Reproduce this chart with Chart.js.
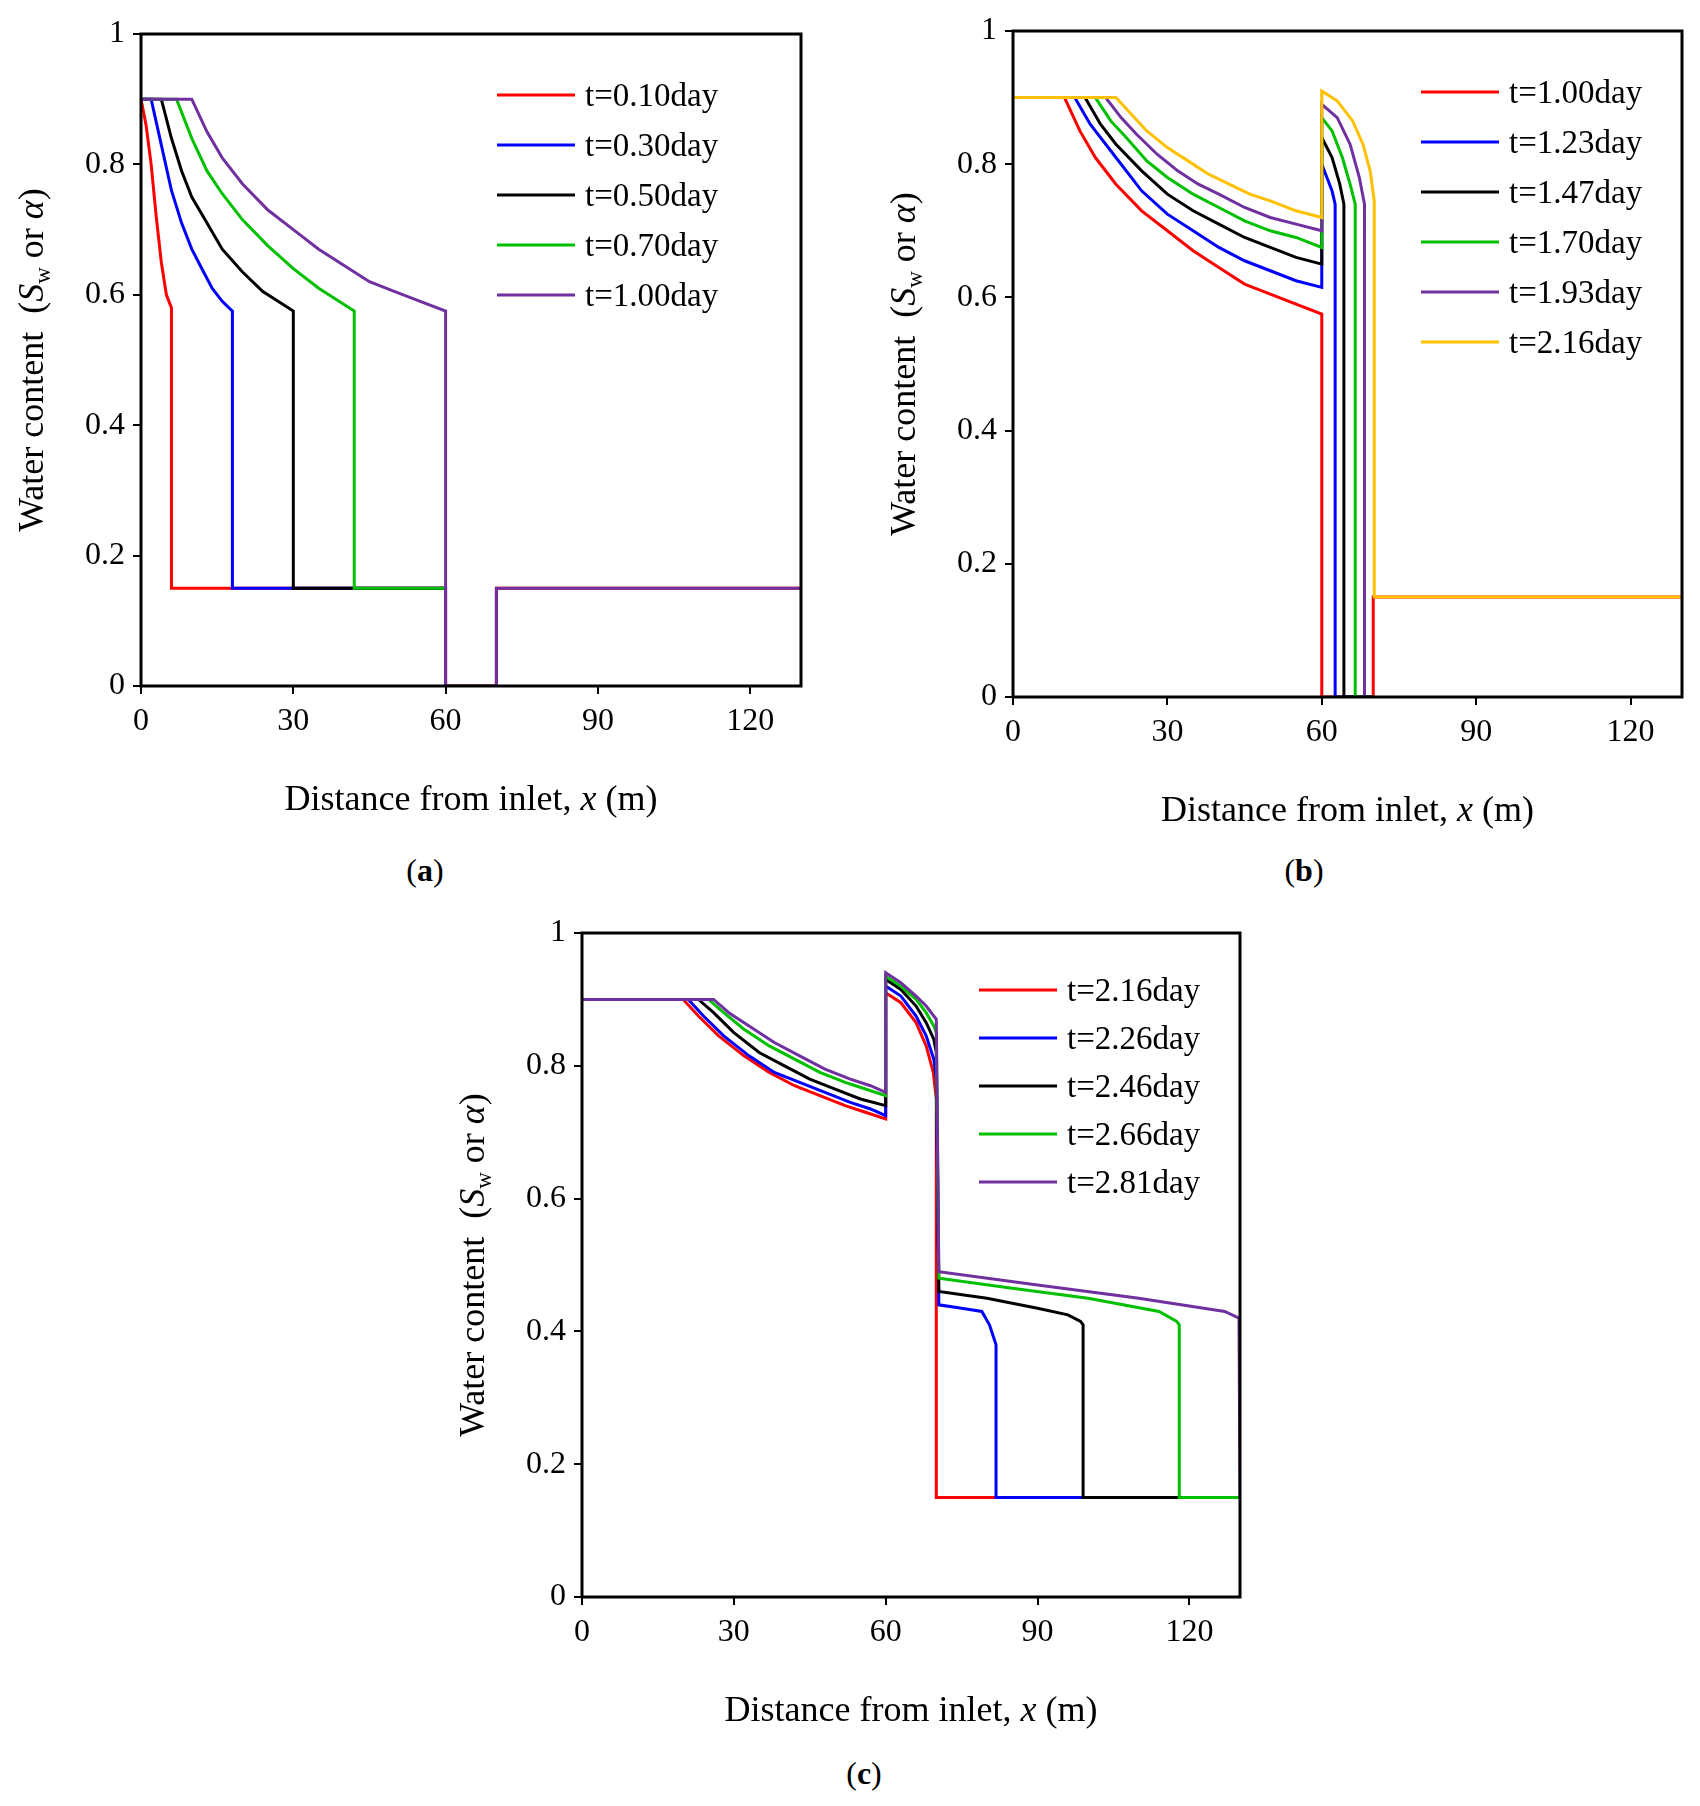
<!DOCTYPE html>
<html>
<head>
<meta charset="utf-8">
<script src="https://cdn.jsdelivr.net/npm/chart.js@4"></script>
<style>
  body { margin: 0; background: #fff; width: 1700px; height: 1806px; position: relative; font-family: "Liberation Serif", serif; }
  canvas { position: absolute; }
  .cap { position: absolute; font-size: 32px; transform: translateX(-50%); }
</style>
</head>
<body>
<canvas id="ca" width="850" height="850" style="left:0;top:0"></canvas>
<canvas id="cb" width="830" height="850" style="left:870px;top:0"></canvas>
<canvas id="cc" width="850" height="850" style="left:440px;top:900px"></canvas>
<div class="cap" style="left:425px;top:852px">(<b>a</b>)</div>
<div class="cap" style="left:1304px;top:852px">(<b>b</b>)</div>
<div class="cap" style="left:864px;top:1755px">(<b>c</b>)</div>
<script>
const xTicks = [0, 30, 60, 90, 120];
const yTicks = [0, 0.2, 0.4, 0.6, 0.8, 1];

// panel (a)
const aLabels = ["t=0.10day", "t=0.30day", "t=0.50day", "t=0.70day", "t=1.00day"];
const aX1 = [0, 1, 2, 3, 4, 5, 6, 6, 60, 60, 70, 70, 130];
const aY1 = [0.9, 0.86, 0.8, 0.72, 0.65, 0.6, 0.58, 0.15, 0.15, 0, 0, 0.15, 0.15];
const aX2 = [0, 2, 4, 6, 8, 10, 12, 14, 16, 18, 18, 60];
const aY2 = [0.9, 0.9, 0.83, 0.76, 0.71, 0.67, 0.64, 0.61, 0.59, 0.575, 0.15, 0.15];
const aX3 = [0, 4, 6, 8, 10, 13, 16, 20, 24, 27, 30, 30, 60];
const aY3 = [0.9, 0.9, 0.84, 0.79, 0.75, 0.71, 0.67, 0.635, 0.605, 0.59, 0.575, 0.15, 0.15];
const aX4 = [0, 7, 10, 13, 16, 20, 25, 30, 35, 40, 42, 42, 60];
const aY4 = [0.9, 0.9, 0.84, 0.79, 0.755, 0.715, 0.675, 0.64, 0.61, 0.585, 0.575, 0.15, 0.15];
const aX5 = [0, 10, 13, 16, 20, 25, 30, 35, 40, 45, 50, 55, 60, 60, 70, 70, 130];
const aY5 = [0.9, 0.9, 0.85, 0.81, 0.77, 0.73, 0.7, 0.67, 0.645, 0.62, 0.605, 0.59, 0.575, 0, 0, 0.15, 0.15];

// panel (b)
const bLabels = ["t=1.00day", "t=1.23day", "t=1.47day", "t=1.70day", "t=1.93day", "t=2.16day"];
const bX1 = [0, 10, 13, 16, 20, 25, 30, 35, 40, 45, 50, 55, 60, 60, 61, 70, 70, 130];
const bY1 = [0.9, 0.9, 0.85, 0.81, 0.77, 0.73, 0.7, 0.67, 0.645, 0.62, 0.605, 0.59, 0.575, 0, 0, 0, 0.15, 0.15];
const bX2 = [0, 12, 15, 20, 25, 30, 35, 40, 45, 50, 55, 60, 60, 61, 62, 62.6, 62.6, 70];
const bY2 = [0.9, 0.9, 0.86, 0.81, 0.76, 0.725, 0.7, 0.675, 0.655, 0.64, 0.625, 0.615, 0.8, 0.78, 0.76, 0.74, 0, 0];
const bX3 = [0, 14, 17, 20, 25, 30, 35, 40, 45, 50, 55, 60, 60, 62, 63.5, 64.3, 64.3, 70];
const bY3 = [0.9, 0.9, 0.86, 0.83, 0.79, 0.755, 0.73, 0.71, 0.69, 0.675, 0.66, 0.65, 0.84, 0.81, 0.77, 0.74, 0, 0];
const bX4 = [0, 16, 19, 22, 26, 30, 35, 40, 45, 50, 55, 60, 60, 62, 64, 65.5, 66.5, 66.5, 70];
const bY4 = [0.9, 0.9, 0.865, 0.84, 0.805, 0.78, 0.755, 0.735, 0.715, 0.7, 0.69, 0.675, 0.87, 0.85, 0.81, 0.77, 0.74, 0, 0];
const bX5 = [0, 18, 21, 24, 28, 32, 36, 40, 45, 50, 55, 60, 60, 63, 65.5, 67.3, 68.3, 68.3, 70];
const bY5 = [0.9, 0.9, 0.87, 0.845, 0.815, 0.79, 0.77, 0.755, 0.735, 0.72, 0.71, 0.7, 0.89, 0.87, 0.83, 0.78, 0.74, 0, 0];
const bX6 = [0, 20, 23, 26, 30, 34, 38, 42, 46, 50, 55, 60, 60, 63, 66, 68, 69.4, 70.2, 70.2, 130];
const bY6 = [0.9, 0.9, 0.875, 0.85, 0.825, 0.805, 0.785, 0.77, 0.755, 0.745, 0.73, 0.72, 0.91, 0.895, 0.865, 0.83, 0.79, 0.745, 0.15, 0.15];

// panel (c)
const cLabels = ["t=2.16day", "t=2.26day", "t=2.46day", "t=2.66day", "t=2.81day"];
const cX1 = [0, 20, 23, 27, 32, 37, 42, 47, 52, 56, 60, 60, 63, 66, 68, 69.4, 70, 70, 130];
const cY1 = [0.9, 0.9, 0.875, 0.845, 0.815, 0.79, 0.77, 0.755, 0.74, 0.73, 0.72, 0.91, 0.895, 0.865, 0.83, 0.79, 0.75, 0.15, 0.15];
const cX2 = [0, 21, 24, 28, 33, 38, 43, 48, 53, 57, 60, 60, 63, 66, 68, 69.5, 70, 70.5, 75, 79, 80.5, 81.8, 81.8, 130];
const cY2 = [0.9, 0.9, 0.875, 0.845, 0.815, 0.79, 0.775, 0.76, 0.745, 0.735, 0.725, 0.92, 0.905, 0.875, 0.845, 0.81, 0.78, 0.44, 0.435, 0.43, 0.41, 0.38, 0.15, 0.15];
const cX3 = [0, 23, 26, 30, 35, 40, 45, 50, 55, 60, 60, 63, 66, 68, 69.5, 70, 70.5, 80, 90, 96, 98.5, 99, 99, 130];
const cY3 = [0.9, 0.9, 0.88, 0.85, 0.82, 0.8, 0.78, 0.765, 0.75, 0.74, 0.93, 0.915, 0.89, 0.865, 0.84, 0.82, 0.46, 0.45, 0.435, 0.425, 0.415, 0.41, 0.15, 0.15];
const cX4 = [0, 25, 28, 32, 37, 42, 47, 52, 56, 60, 60, 63, 66, 68, 69.5, 70, 70.5, 85, 100, 114, 117.5, 118, 118, 130];
const cY4 = [0.9, 0.9, 0.88, 0.855, 0.83, 0.81, 0.79, 0.775, 0.765, 0.755, 0.935, 0.92, 0.9, 0.88, 0.86, 0.85, 0.48, 0.465, 0.45, 0.43, 0.415, 0.41, 0.15, 0.15];
const cX5 = [0, 26, 29, 33, 38, 43, 48, 53, 57, 60, 60, 63, 66, 68, 69.5, 70, 70.5, 90, 110, 127, 129.8, 130];
const cY5 = [0.9, 0.9, 0.88, 0.86, 0.835, 0.815, 0.795, 0.78, 0.77, 0.76, 0.94, 0.925, 0.905, 0.89, 0.875, 0.87, 0.49, 0.47, 0.45, 0.43, 0.42, 0.15];

const colorsA = ["#ff0000", "#0000ff", "#000000", "#00c000", "#7030a0"];
const colorsB = ["#ff0000", "#0000ff", "#000000", "#00c000", "#7030a0", "#ffc000"];

function zip(xs, ys) { return xs.map((x, i) => ({ x: x, y: ys[i] })); }

const frame = {
  id: "frame",
  afterDraw(chart, args, opts) {
    const c = chart.ctx, a = chart.chartArea;
    c.save();
    c.strokeStyle = "#000";
    c.lineWidth = 3;
    c.strokeRect(a.left, a.top, a.right - a.left, a.bottom - a.top);
    // legend inside plot area
    c.font = "33px 'Liberation Serif'";
    c.textBaseline = "middle";
    chart.data.datasets.forEach((d, i) => {
      const y = a.top + opts.ly + i * opts.dy;
      const x = a.left + opts.lx;
      c.strokeStyle = d.borderColor;
      c.lineWidth = 3;
      c.beginPath(); c.moveTo(x, y); c.lineTo(x + 78, y); c.stroke();
      c.fillStyle = "#000";
      c.fillText(d.label, x + 88, y + 2);
    });
    // x title
    c.textBaseline = "alphabetic";
    const parts = [["Distance from inlet, ", ""], ["x", "italic "], [" (m)", ""]];
    let w = 0;
    parts.forEach(p => { c.font = p[1] + "36px 'Liberation Serif'"; w += c.measureText(p[0]).width; });
    let px = (a.left + a.right) / 2 - w / 2;
    parts.forEach(p => { c.font = p[1] + "36px 'Liberation Serif'"; c.fillText(p[0], px, a.bottom + 124); px += c.measureText(p[0]).width; });
    // y title
    c.translate(a.left - 110, (a.top + a.bottom) / 2);
    c.rotate(-Math.PI / 2);
    const yp = [["Water content  (", "", 0, 36], ["S", "italic ", 0, 36], ["w", "", 7, 23], [" or ", "", 0, 36], ["\u03b1", "italic ", 0, 36], [")", "", 0, 36]];
    w = 0;
    yp.forEach(p => { c.font = p[1] + p[3] + "px 'Liberation Serif'"; w += c.measureText(p[0]).width; });
    px = -w / 2;
    yp.forEach(p => { c.font = p[1] + p[3] + "px 'Liberation Serif'"; c.fillText(p[0], px, 12 + p[2]); px += c.measureText(p[0]).width; });
    c.restore();
  }
};

function makeChart(id, sets, labels, colors, pad, yw, xh, leg) {
  const n = sets.length;
  const datasets = sets.map((s, i) => ({
    label: labels[i],
    data: zip(s[0], s[1]),
    borderColor: colors[i],
    borderWidth: 3,
    pointRadius: 0,
    showLine: true,
    tension: 0,
    order: n - i
  }));
  const tickFont = { family: "Liberation Serif", size: 32 };
  return new Chart(document.getElementById(id), {
    type: "scatter",
    data: { datasets: datasets },
    options: {
      responsive: false,
      animation: false,
      layout: { padding: pad },
      plugins: { legend: { display: false }, tooltip: { enabled: false }, frame: leg },
      scales: {
        x: {
          min: 0, max: 130,
          afterBuildTicks: s => { s.ticks = xTicks.map(v => ({ value: v })); },
          afterFit: s => { s.height = xh; },
          grid: { drawOnChartArea: false, color: "#000", tickLength: 8, lineWidth: 2 },
          border: { display: false },
          ticks: { color: "#000", font: tickFont, padding: 8 }
        },
        y: {
          min: 0, max: 1,
          afterBuildTicks: s => { s.ticks = yTicks.map(v => ({ value: v })); },
          afterFit: s => { s.width = yw; },
          grid: { drawOnChartArea: false, color: "#000", tickLength: 8, lineWidth: 2 },
          border: { display: false },
          ticks: { color: "#000", font: tickFont, padding: 8, callback: v => String(v) }
        }
      }
    },
    plugins: [frame]
  });
}

makeChart("ca", [[aX1, aY1], [aX2, aY2], [aX3, aY3], [aX4, aY4], [aX5, aY5]], aLabels, colorsA,
  { top: 34, right: 49, left: 0, bottom: 30 }, 141, 134, { lx: 356, ly: 61, dy: 50 });
makeChart("cb", [[bX1, bY1], [bX2, bY2], [bX3, bY3], [bX4, bY4], [bX5, bY5], [bX6, bY6]], bLabels, colorsB,
  { top: 31, right: 18, left: 0, bottom: 30 }, 143, 123, { lx: 408, ly: 61, dy: 50 });
makeChart("cc", [[cX1, cY1], [cX2, cY2], [cX3, cY3], [cX4, cY4], [cX5, cY5]], cLabels, colorsA,
  { top: 33, right: 50, left: 0, bottom: 30 }, 142, 123, { lx: 397, ly: 57, dy: 48 });
</script>
</body>
</html>
